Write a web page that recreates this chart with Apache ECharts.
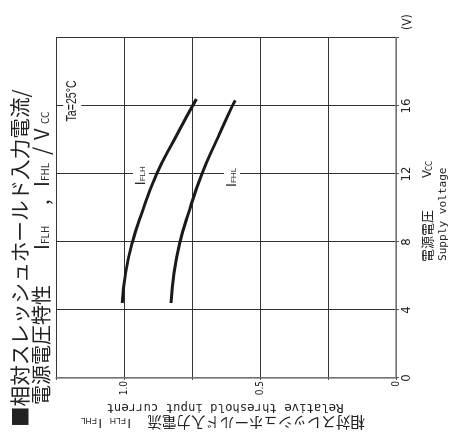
<!DOCTYPE html>
<html><head><meta charset="utf-8">
<script src="https://cdn.jsdelivr.net/npm/echarts@6/dist/echarts.min.js"></script>
<style>
html,body{margin:0;padding:0;width:449px;height:437px;overflow:hidden;background:#fff;}
#rot{position:absolute;left:0;top:0;width:437px;height:449px;transform-origin:0 0;transform:translate(0px,437px) rotate(-90deg);background:#fff;}
</style></head><body>
<div id="rot"></div>
<script>
// Data (supply voltage V, relative threshold input current)
const voltageFLH = [4.41, 6.18, 8.0, 9.5, 12.0, 14.0, 16.04, 16.41];
const currentFLH = [1.006, 0.994, 0.969, 0.939, 0.880, 0.816, 0.747, 0.734];
const voltageFHL = [4.41, 6.18, 8.0, 9.5, 12.0, 14.0, 16.0, 16.33];
const currentFHL = [0.827, 0.816, 0.794, 0.767, 0.714, 0.659, 0.602, 0.591];
const voltageTicks = [0, 4, 8, 12, 16];
const currentTickValues = [0, 0.5, 1.0];
const currentTickLabels = ['0', '0.5', '1.0'];
const labelFLHAt = [11.9, 0.9375];
const labelFHLAt = [11.8, 0.603];
const labelTaAt = [16.3, 1.19];

const NARROW = '"Liberation Sans Narrow","DejaVu Sans Condensed",sans-serif';
const JP = '"Noto Sans CJK JP","Noto Sans",sans-serif';
const MONO = '"DejaVu Sans Mono","Liberation Mono",monospace';
const INK = '#222';

function txt(t, x, y, font, opts) {
  opts = opts || {};
  const align = opts.align || 'left';
  const el = {
    type: 'text', x: x, y: y, rotation: opts.rot || 0, z: 100,
    scaleX: opts.sx || 1,
    style: { text: t, font: font, fill: INK,
      textAlign: align, align: align,
      textVerticalAlign: 'middle', verticalAlign: 'middle' }
  };
  if (opts.bg) { el.style.backgroundColor = opts.bg; el.style.padding = opts.pad || [2, 3]; }
  return el;
}

const chart = echarts.init(document.getElementById('rot'), null, {renderer: 'canvas'});
const R = Math.PI / 2;
const subRich = {
  i: { fontSize: 14, color: INK, verticalAlign: 'bottom' },
  s: { fontSize: 8, color: INK, verticalAlign: 'bottom', padding: [0, 0, 1, 0] }
};
const option = {
  backgroundColor: '#fff',
  animation: false,
  grid: { left: 59, right: 38, top: 56, bottom: 53, containLabel: false, outerBoundsMode: 'none' },
  xAxis: {
    type: 'value', min: 0, max: 20, interval: 4,
    axisLine: { show: true, onZero: false, lineStyle: { color: '#888', width: 1.5 } },
    axisTick: { show: true, length: 3, lineStyle: { color: '#555' } },
    axisLabel: { margin: 4, fontSize: 13, fontFamily: NARROW, color: INK,
      formatter: v => voltageTicks.includes(v) ? String(v) : '' },
    splitLine: { show: true, lineStyle: { color: '#333', width: 1 } }
  },
  yAxis: {
    type: 'value', min: 0, max: 1.25, interval: 0.25,
    axisLine: { show: true, onZero: false, lineStyle: { color: '#888', width: 1.5 } },
    axisTick: { show: true, length: 2, lineStyle: { color: '#555' } },
    axisLabel: { margin: 3, fontSize: 10, fontFamily: NARROW, color: INK,
      formatter: v => {
        const k = currentTickValues.findIndex(t => Math.abs(t - v) < 1e-6);
        return k >= 0 ? currentTickLabels[k] : '';
      } },
    splitLine: { show: true, lineStyle: { color: '#333', width: 1 } }
  },
  series: [
    {
      type: 'line', name: 'IFLH', smooth: true, symbol: 'none',
      data: voltageFLH.map((v, i) => [v, currentFLH[i]]),
      lineStyle: { color: '#1a1a1a', width: 3 },
      markPoint: {
        symbol: 'rect', symbolSize: 0, silent: true,
        label: { show: true, position: 'inside', backgroundColor: '#fff', padding: [1, 3], color: INK },
        data: [
          { coord: labelFLHAt, label: { formatter: '{i|I}{s|FLH}', rich: subRich } }
        ]
      }
    },
    {
      type: 'line', name: 'IFHL', smooth: true, symbol: 'none',
      data: voltageFHL.map((v, i) => [v, currentFHL[i]]),
      lineStyle: { color: '#1a1a1a', width: 3 },
      markPoint: {
        symbol: 'rect', symbolSize: 0, silent: true,
        label: { show: true, position: 'inside', backgroundColor: '#fff', padding: [1, 3], color: INK },
        data: [
          { coord: labelFHLAt, label: { formatter: '{i|I}{s|FHL}', rich: subRich } }
        ]
      }
    }
  ],
  graphic: [
    // title
    txt('■相対スレッシュホールド入力電流/', 10, 20, '20.6px ' + JP),
    txt('電源電圧特性', 32, 41, '20px ' + JP),
    txt('I', 187, 41, '20px ' + JP),
    txt('FLH', 193, 45, '10px ' + JP),
    txt(',', 232, 41, '20px ' + JP),
    txt('I', 250, 41, '20px ' + JP),
    txt('FHL', 256, 45, '10px ' + JP),
    txt('/', 282, 41, '21px ' + JP),
    txt('V', 297, 41, '20px ' + JP),
    txt('CC', 313, 45, '10px ' + JP),
    // y axis name (rotated)
    txt('相対スレッシュホールド入力電流', 14.5, 365, '14.5px ' + JP, {rot: R}),
    txt('I', 14.5, 131, '13px sans-serif', {rot: R}),
    txt('FLH', 16.5, 126, '8.5px sans-serif', {rot: R}),
    txt('I', 14.5, 102, '13px sans-serif', {rot: R}),
    txt('FHL', 16.5, 97, '8.5px sans-serif', {rot: R}),
    txt('Relative threshold input current', 30, 225, '12.3px ' + MONO, {rot: R, align: 'center'}),
    // x axis name
    txt('電源電圧', 175, 427.5, '13px ' + JP),
    txt('V', 259, 427.5, '13px ' + NARROW),
    txt('CC', 266, 430, '8px ' + NARROW),
    txt('Supply voltage', 176, 443, '11.1px ' + MONO),
    txt('(V)', 407, 408, '12px ' + NARROW)
  ]
};
chart.setOption(option);
// Ta label positioned through the chart's own scales, drawn condensed
const pTa = chart.convertToPixel({ gridIndex: 0 }, labelTaAt);
option.graphic.push(txt('Ta=25°C', pTa[0], pTa[1], '14px sans-serif', { align: 'center', sx: 0.76, bg: '#fff', pad: [2, 3] }));
chart.setOption({ graphic: option.graphic });
</script>
</body></html>
